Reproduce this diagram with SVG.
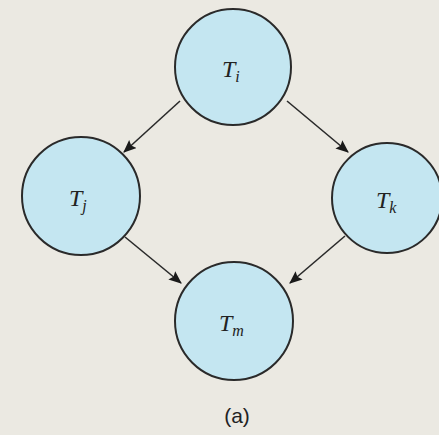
<svg xmlns="http://www.w3.org/2000/svg" width="439" height="435" viewBox="0 0 439 435">
<style>
.n{fill:#c4e6f1;stroke:#2a2a2a;stroke-width:2}
.t{font-family:"Liberation Serif",serif;font-style:italic;font-size:24px;fill:#222}
.s{font-size:16px}
.e{stroke:#2a2a2a;stroke-width:1.6;fill:none;marker-end:url(#a)}
</style>
<defs>
<marker id="a" viewBox="0 0 12 10" refX="11" refY="5" markerWidth="13" markerHeight="11" markerUnits="userSpaceOnUse" orient="auto">
<path d="M0,0 L12,5 L0,10 L2,5 Z" fill="#1a1a1a"/>
</marker>
</defs>
<rect width="439" height="435" fill="#ebe9e2"/>
<g id="edges">
<path class="e" d="M180,101 L124,152"/>
<path class="e" d="M287,101 L348,152"/>
<path class="e" d="M125,237 L181,283"/>
<path class="e" d="M345,236 L290,283"/>
</g>
<g id="Ti"><circle class="n" cx="233" cy="67" r="58"/><text class="t" x="222" y="77">T<tspan class="s" dy="5">i</tspan></text></g>
<g id="Tj"><circle class="n" cx="81" cy="196" r="59"/><text class="t" x="69" y="206">T<tspan class="s" dy="5">j</tspan></text></g>
<g id="Tk"><circle class="n" cx="387" cy="198" r="55"/><text class="t" x="376" y="208">T<tspan class="s" dy="5">k</tspan></text></g>
<g id="Tm"><circle class="n" cx="234" cy="321" r="59"/><text class="t" x="219" y="331">T<tspan class="s" dy="5">m</tspan></text></g>
<text x="237" y="423" text-anchor="middle" font-family="Liberation Sans,sans-serif" font-size="21" fill="#222">(a)</text>
</svg>
